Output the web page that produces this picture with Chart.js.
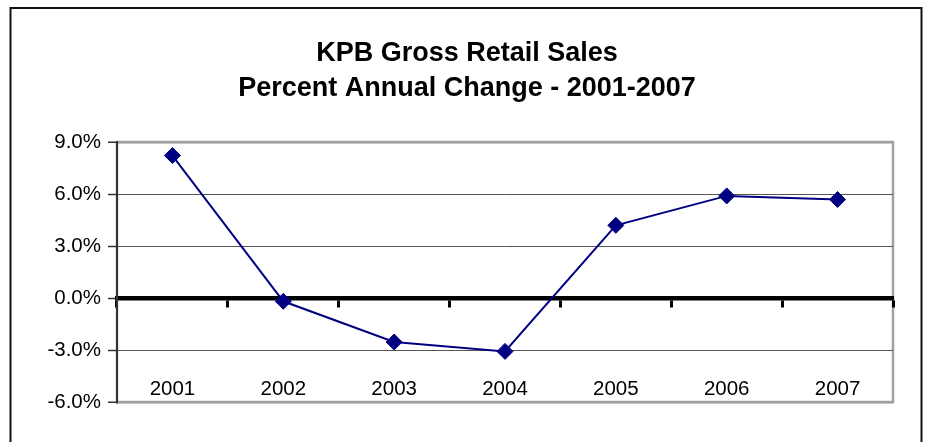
<!DOCTYPE html>
<html>
<head>
<meta charset="utf-8">
<script src="https://cdn.jsdelivr.net/npm/chart.js@4"></script>
<style>
  html, body { margin: 0; padding: 0; background: #fff; }
  #wrap { position: relative; width: 927px; height: 442px; overflow: hidden; }
  canvas { position: absolute; left: 0; top: 0; }
</style>
</head>
<body>
<div id="wrap"><canvas id="c" width="927" height="442"></canvas></div>
<script>
// ---- data ----
const years = ['2001', '2002', '2003', '2004', '2005', '2006', '2007'];
const pctChange = [8.22, -0.19, -2.54, -3.08, 4.19, 5.89, 5.68];
const titleLines = ['KPB Gross Retail Sales', 'Percent Annual Change - 2001-2007'];
const yMin = -6, yMax = 9, yStep = 3;

const FONT = '"Liberation Sans", Arial, Helvetica, sans-serif';

const framePlugin = {
  id: 'frame',
  beforeDraw(chart) {
    const { ctx, chartArea: a } = chart;
    ctx.save();
    // outer chart border
    ctx.strokeStyle = '#111';
    ctx.lineWidth = 2;
    ctx.strokeRect(10.5, 8, 911, 480);
    // plot area frame (gray)
    ctx.strokeStyle = '#a0a0a0';
    ctx.lineWidth = 2.5;
    ctx.strokeRect(a.left, a.top, a.right - a.left, a.bottom - a.top);
    ctx.restore();
  }
};

const xLabelPlugin = {
  id: 'xLabels',
  afterDatasetsDraw(chart) {
    const { ctx, chartArea: a } = chart;
    const xs = chart.scales.x;
    ctx.save();
    ctx.font = '20.5px ' + FONT;
    ctx.fillStyle = '#000';
    ctx.textAlign = 'center';
    ctx.textBaseline = 'middle';
    years.forEach((lab, i) => {
      ctx.fillText(lab, xs.getPixelForValue(i), a.bottom - 12.5);
    });
    ctx.restore();
  }
};

new Chart(document.getElementById('c'), {
  type: 'line',
  data: {
    labels: years,
    datasets: [{
      data: pctChange,
      borderColor: '#000080',
      backgroundColor: '#000080',
      borderWidth: 2,
      tension: 0,
      pointStyle: 'rectRot',
      pointRadius: 8,
      pointHoverRadius: 8,
      pointBackgroundColor: '#000080',
      pointBorderColor: '#000080',
      pointBorderWidth: 1,
      clip: false
    }]
  },
  options: {
    responsive: false,
    animation: false,
    events: [],
    layout: { padding: { left: 7, right: 0, top: 0, bottom: 40 } },
    plugins: {
      legend: { display: false },
      tooltip: { enabled: false },
      title: {
        display: true,
        text: titleLines,
        color: '#000',
        font: { family: FONT, size: 27, weight: 'bold', lineHeight: 1.3 },
        padding: { top: 36, bottom: 35.8 }
      }
    },
    scales: {
      x: {
        type: 'category',
        position: { y: 0 },
        offset: true,
        grid: {
          offset: true,
          drawOnChartArea: false,
          drawTicks: true,
          tickLength: 7,
          tickWidth: 3,
          tickColor: '#000'
        },
        border: { display: true, color: '#000', width: 4.5 },
        ticks: { display: false }
      },
      y: {
        position: 'left',
        min: yMin,
        max: yMax,
        afterFit(scale) { scale.width = 110; },
        ticks: {
          stepSize: yStep,
          color: '#000',
          padding: 7,
          font: { family: FONT, size: 20.5 },
          callback: (v) => v.toFixed(1) + '%'
        },
        grid: {
          color: (c) => (c.tick && (c.tick.value === yMax || c.tick.value === yMin)) ? '#a0a0a0' : '#555',
          lineWidth: (c) => (c.tick && (c.tick.value === yMax || c.tick.value === yMin)) ? 2.5 : 1,
          tickLength: 9,
          tickWidth: 1.5,
          tickColor: '#333'
        },
        border: { display: true, color: '#333', width: 2 }
      },
      yRightSpace: {
        position: 'right',
        min: yMin,
        max: yMax,
        afterFit(scale) { scale.width = 34; },
        ticks: { display: false },
        grid: { display: false, drawTicks: false },
        border: { display: false }
      }
    }
  },
  plugins: [framePlugin, xLabelPlugin]
});
</script>
</body>
</html>
